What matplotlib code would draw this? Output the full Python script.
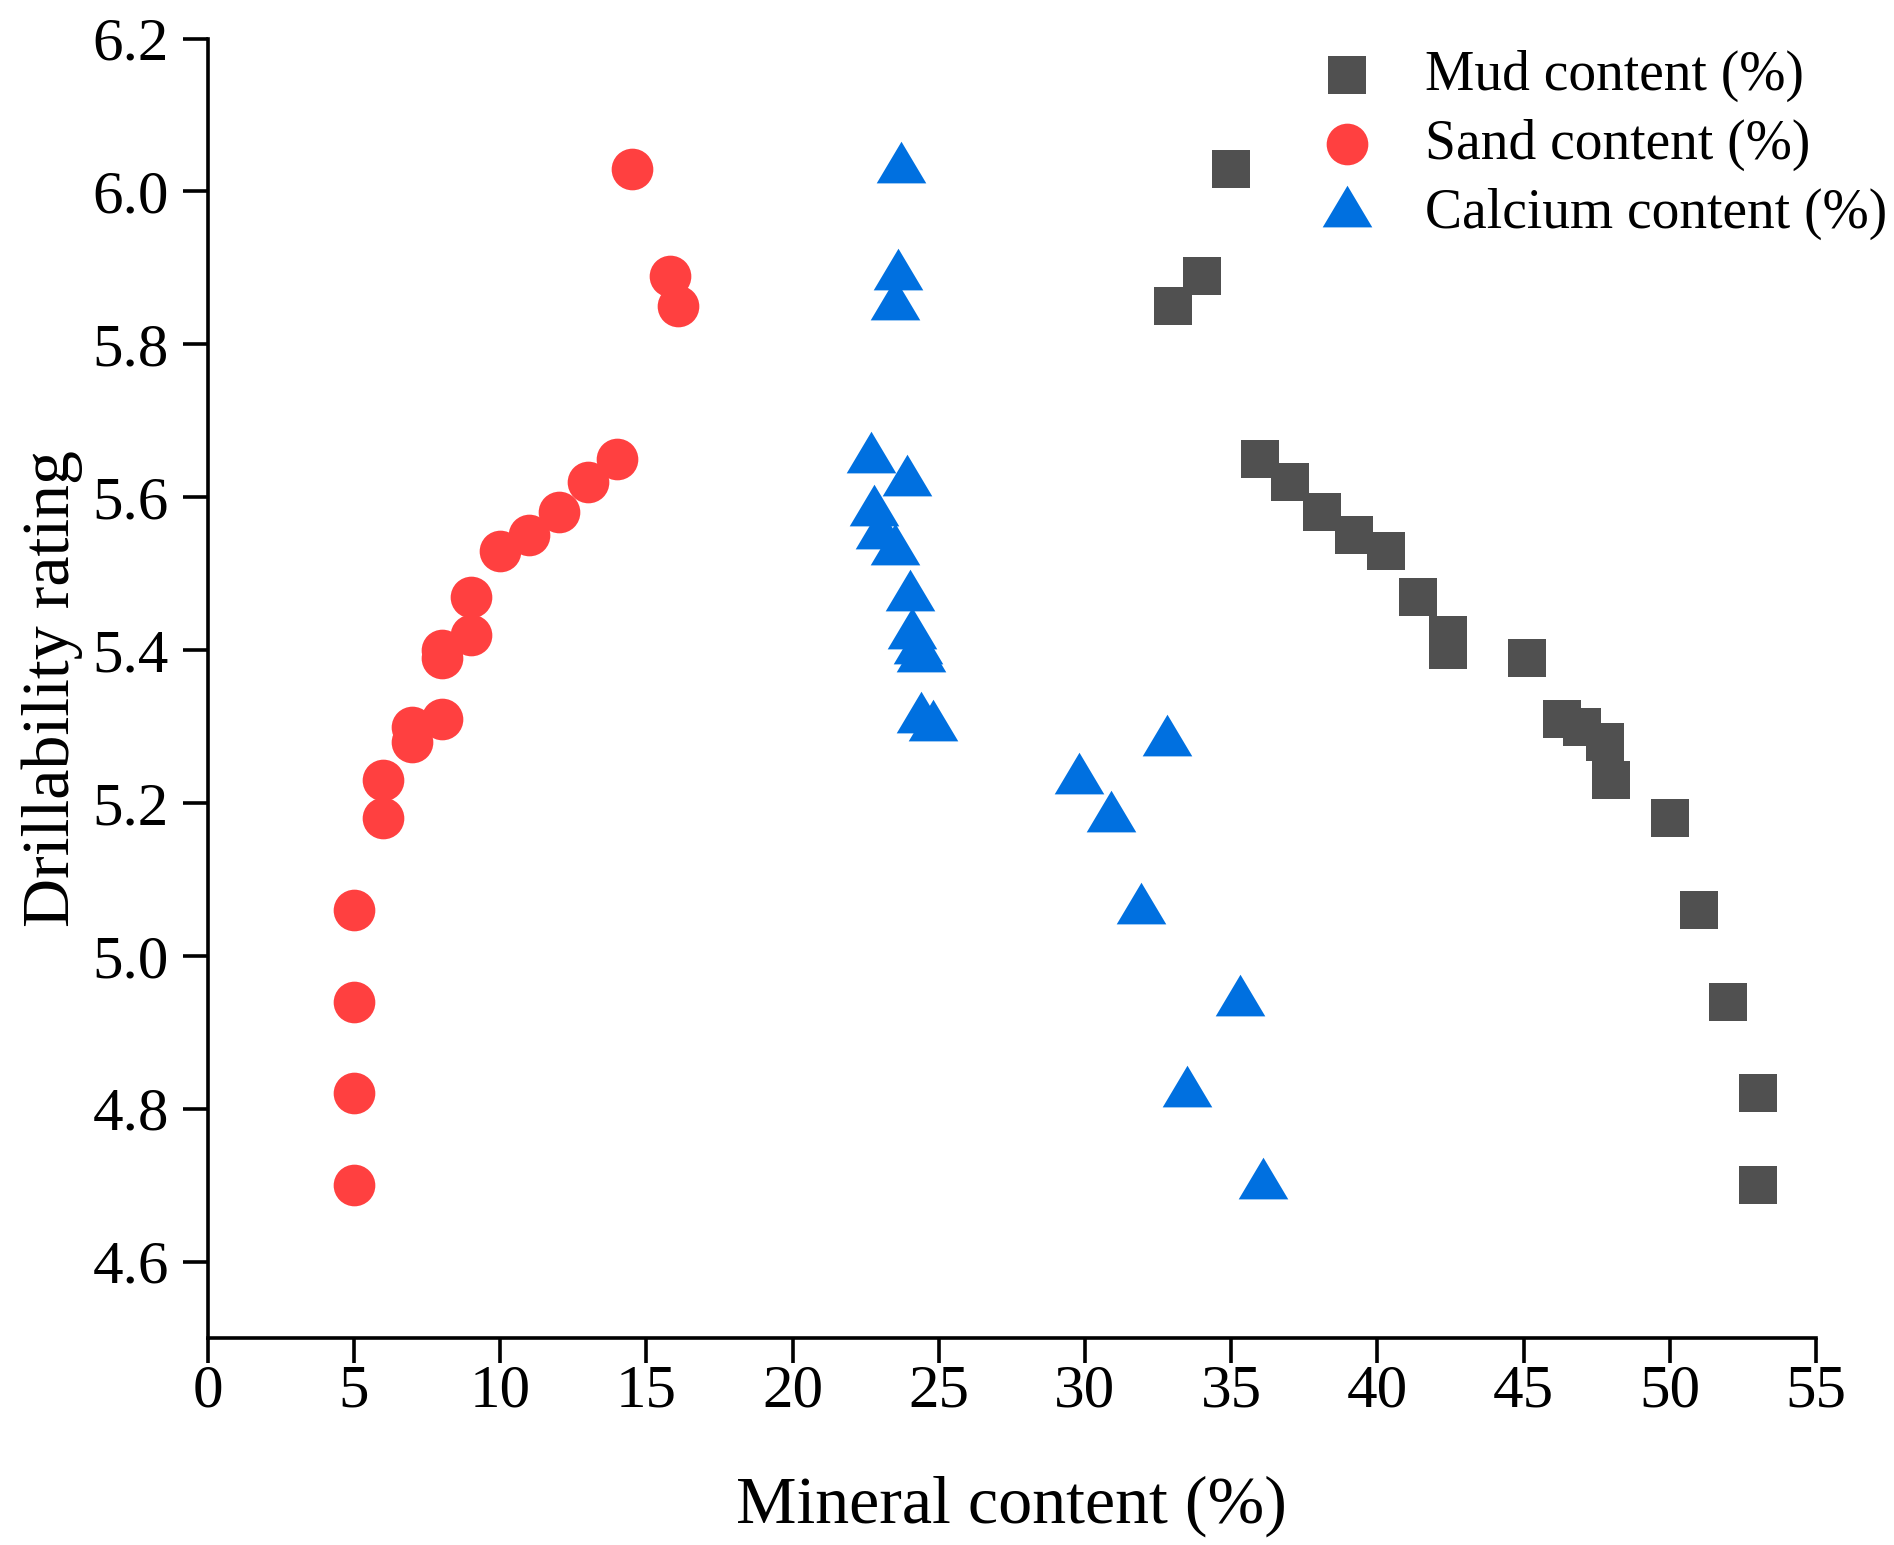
import numpy as np
import matplotlib
matplotlib.use("Agg")
import matplotlib.pyplot as plt

plt.rcParams['font.family'] = ['Liberation Serif', 'DejaVu Serif']

# drillability rating shared by all three series
rating = [6.03, 5.89, 5.85, 5.65, 5.62, 5.58, 5.55, 5.53, 5.47, 5.42, 5.40,
          5.39, 5.31, 5.30, 5.28, 5.23, 5.18, 5.06, 4.94, 4.82, 4.70]

mud = [35.0, 34.0, 33.0, 36.0, 37.0, 38.1, 39.2, 40.3, 41.4, 42.4, 42.4,
       45.1, 46.3, 47.0, 47.8, 48.0, 50.0, 51.0, 52.0, 53.0, 53.0]
sand = [14.5, 15.8, 16.1, 14.0, 13.0, 12.0, 11.0, 10.0, 9.0, 9.0, 8.0,
        8.0, 8.0, 7.0, 7.0, 6.0, 6.0, 5.0, 5.0, 5.0, 5.0]
calcium = [23.7, 23.6, 23.5, 22.7, 23.9, 22.8, 23.0, 23.5, 24.0, 24.1, 24.3,
           24.4, 24.4, 24.8, 32.8, 29.8, 30.9, 31.9, 35.3, 33.5, 36.1]

W, H = 1894, 1545
fig = plt.figure(figsize=(W / 100, H / 100), dpi=100)
left, right, top, bottom = 207.7, 1816, 38.6, 1338
ax = fig.add_axes([left / W, 1 - bottom / H, (right - left) / W, (bottom - top) / H])

# triangle anchored at its centroid
tri = [(0, 1.12), (-1, -0.56), (1, -0.56)]

ax.scatter(mud, rating, marker='s', s=27**2, color='#505050', linewidths=0,
           label='Mud content (%)')
ax.scatter(sand, rating, marker='o', s=30**2, color='#ff4040', linewidths=0,
           label='Sand content (%)')
ax.scatter(calcium, rating, marker=tri, s=40**2, color='#0070e0', linewidths=0,
           label='Calcium content (%)')

ax.set_xlim(0, 55)
ax.set_ylim(4.5, 6.2)
ax.set_xticks(np.arange(0, 56, 5))
ax.set_yticks([4.6, 4.8, 5.0, 5.2, 5.4, 5.6, 5.8, 6.0, 6.2])
ax.yaxis.set_major_formatter(matplotlib.ticker.FormatStrFormatter('%.1f'))

for side in ['top', 'right']:
    ax.spines[side].set_visible(False)
for side in ['left', 'bottom']:
    ax.spines[side].set_linewidth(2.6)
ax.tick_params(direction='out', length=18, width=2.6, labelsize=44)
ax.tick_params(axis='x', pad=1)
ax.tick_params(axis='y', pad=10)

ax.set_xlabel('Mineral content (%)', fontsize=49, labelpad=40)
ax.set_ylabel('Drillability rating', fontsize=49, labelpad=7)

ax.legend(loc='upper left', bbox_to_anchor=(1319 / W, 1 - 50 / H),
          bbox_transform=fig.transFigure, frameon=False, fontsize=40,
          borderpad=0, borderaxespad=0, handlelength=1.0, handletextpad=0.9,
          labelspacing=0.3, scatterpoints=1)

fig.savefig('out.png', dpi=100)
